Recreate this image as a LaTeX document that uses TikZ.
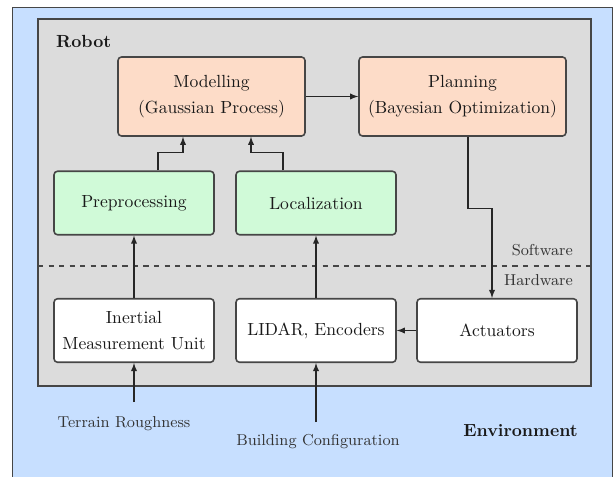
\documentclass[tikz,border=0pt]{standalone}
\definecolor{EnvColor}{RGB}{199,223,255}
\definecolor{RobotColor}{RGB}{220,220,220}
\definecolor{ModelColor}{RGB}{253,220,200}
\definecolor{SenseColor}{RGB}{208,250,216}
\definecolor{EdgeColor}{RGB}{70,70,70}
\usepackage{tikz}
\usetikzlibrary{positioning, arrows.meta}
\tikzstyle{arrow} = [semithick, black!85, ->, >=latex]
\tikzstyle{block} = [rectangle, rounded corners=2pt, draw=EdgeColor, line width=0.9pt, minimum width=3.2cm, minimum height=1.27cm, align=center, text=black!90]
\tikzstyle{modelblock} = [block, fill=ModelColor, minimum height=1.58cm]
\tikzstyle{senseblock} = [block, fill=SenseColor]
\tikzstyle{hwblock} = [block, fill=white]
\tikzstyle{envlabel} = [text=black!80, font=\small]
\tikzstyle{layerlabel} = [text=black!80, font=\small, anchor=east]

\begin{document}
\begin{tikzpicture}
            % Robot inside its environment
            \useasboundingbox (0,0) rectangle (12.28,9.52);
            \draw[fill=EnvColor, draw=EdgeColor] (0.24,-0.3) rectangle (12.24,9.38);
            \draw[fill=RobotColor, draw=EdgeColor, line width=0.8pt] (0.76,1.80) rectangle (11.82,9.14);
            \node[anchor=west, text=black!90] (robot) at (1.0,8.68) {\textbf{Robot}};
            \draw[dashed, semithick, EdgeColor] (0.76,4.2) -- (11.82,4.2);
            \node[layerlabel] (software) at (11.58,4.52) {Software};
            \node[layerlabel] (hardware) at (11.58,3.92) {Hardware};

            % Software blocks
            \node[modelblock, minimum width=3.74cm] (model) at (4.23,7.59) {Modelling\\[3pt](Gaussian Process)};
            \node[modelblock, minimum width=4.14cm] (plan) at (9.25,7.59) {Planning\\[3pt](Bayesian Optimization)};
            \node[senseblock] (prep) at (2.68,5.46) {Preprocessing};
            \node[senseblock] (loc) at (6.32,5.46) {Localization};

            % Hardware blocks
            \node[hwblock] (imu) at (2.68,2.91) {Inertial\\[3pt]Measurement Unit};
            \node[hwblock] (lidar) at (6.32,2.91) {LIDAR, Encoders};
            \node[hwblock] (act) at (9.94,2.91) {Actuators};

            % Environment
            \node[envlabel] (terrain) at (2.48,1.04) {Terrain Roughness};
            \node[envlabel] (building) at (6.36,0.68) {Building Configuration};
            \node[anchor=east, text=black!90] (env) at (11.68,0.9) {\textbf{Environment}};
            \coordinate (terrainsrc) at (2.68,1.48);
            \coordinate (buildingsrc) at (6.32,1.08);

            \draw[arrow] (terrainsrc) -- (imu.south);
            \draw[arrow] (buildingsrc) -- (lidar.south);
            \draw[arrow] (imu) -- (prep);
            \draw[arrow] (lidar) -- (loc);
            \draw[arrow] ([xshift=0.48cm]prep.north) -- ++(0,0.36) -| ([xshift=-0.57cm]model.south);
            \draw[arrow] ([xshift=-0.66cm]loc.north) -- ++(0,0.36) -| ([xshift=0.79cm]model.south);
            \draw[arrow] (model) -- (plan);
            \draw[arrow] ([xshift=0.11cm]plan.south) -- ++(0,-1.44) -| ([xshift=-0.1cm]act.north);
            \draw[arrow] (act) -- (lidar);
        \end{tikzpicture}
\end{document}
